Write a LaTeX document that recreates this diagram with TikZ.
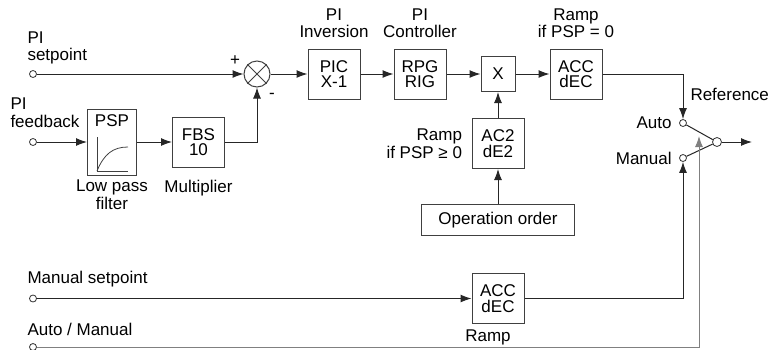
\documentclass[tikz,border=0pt]{standalone}
\usepackage{fontspec}
\setmainfont{Liberation Sans}
\usetikzlibrary{arrows.meta}
\usetikzlibrary{positioning}
\tikzstyle{block} = [rectangle, minimum width=52pt, minimum height=50pt, inner sep=0pt, text centered, align=center, draw=black!75, line width=1pt, font=\fontsize{17}{15.5}\selectfont]
\tikzstyle{term} = [circle, minimum size=7pt, inner sep=0pt, draw=black!80, line width=0.8pt, fill=white]
\tikzstyle{lbl} = [inner sep=0pt, align=center]
\tikzstyle{arrow} = [line width=1pt, draw=black!85, ->, >={Latex[length=11pt,width=8pt]}]

\begin{document}
\begin{tikzpicture}[x=1pt, y=-1pt, font=\fontsize{17}{17.5}\selectfont, line width=1pt]
\useasboundingbox (0,0) rectangle (772,349);

% ===== MAIN ROW =====

% Summing junction
\node (sum) [circle, draw=black!75, minimum size=26pt, inner sep=0pt] at (257,74) {};
\draw [black!75] (sum.north west) -- (sum.south east) (sum.north east) -- (sum.south west);
\node (plus) [lbl] at (235,61) {+};
\node (minus) [lbl] at (272,96) {-};

% PI inversion
\node (pic) [block, right=37pt of sum] {PIC\\X-1};
\node (lblpic) [lbl, above=10pt of pic] {PI\\Inversion};

% PI controller
\node (rpg) [block, right=33pt of pic] {RPG\\RIG};
\node (lblrpg) [lbl, above=10pt of rpg] {PI\\Controller};

% Multiplier
\node (mult) [block, minimum width=34pt, minimum height=35pt, right=34pt of rpg] {X};

% Ramp
\node (acc) [block, right=34pt of mult] {ACC\\dEC};
\node (lblacc) [lbl, above=10pt of acc] {Ramp\\if PSP = 0};

% Second ramp
\node (ac2) [block, below=26pt of mult] {AC2\\dE2};
\node (lblac2) [lbl, align=right, left=9pt of ac2] {Ramp\\if PSP ≥ 0};

% Operation order
\node (order) [block, minimum width=153pt, minimum height=31pt, below=35pt of ac2] {Operation order};

% Manual ramp
\node (acc2) [block, below=37pt of order] {ACC\\dEC};
\node (lblacc2) [lbl, below=5pt of acc2, xshift=-10pt] {Ramp};

% ===== FEEDBACK ROW =====

% Low pass filter
\node (psp) [block, minimum width=49pt, minimum height=66pt, label={[lbl, anchor=north, yshift=-6pt]north:PSP}] at (112,142) {};
\begin{scope}[shift={(psp.center)}, line width=0.8pt, black!75]
\draw (-15,-5) -- (-15,29) -- (16,29);
\draw (-15,29) .. controls (-8,12) and (1,5) .. (16,5);
\end{scope}
\node (lblpsp) [lbl, below=4pt of psp] {Low pass\\filter};

% Multiplier
\node (fbs) [block, right=35pt of psp] {FBS\\10};
\node (lblfbs) [lbl, below=12pt of fbs] {Multiplier};

% ===== INPUTS =====
\node (in1) [term] at (33,74) {};
\node (lblsp) [lbl, align=left, anchor=south west] at (27,65) {PI\\setpoint};
\node (in2) [term] at (33,142) {};
\node (lblfb) [lbl, align=left, anchor=south west] at (10,128) {PI\\feedback};
\node (in3) [term] at (in1 |- acc2) {};
\node (lblms) [lbl, anchor=base west] at (27,283) {Manual setpoint};
\node (in4) [term] at (33,347) {};
\node (lblam) [lbl, anchor=base west] at (27,335) {Auto / Manual};

% ===== SWITCH =====
\node (auto) [term] at (683,123) {};
\node (man) [term] at (683,158) {};
\node (pivot) [term, minimum size=9pt] at (717,142) {};
\coordinate (out) at (752,142);
\coordinate (lever) at (699,136);
\node (lblauto) [lbl, left=7pt of auto] {Auto};
\node (lblman) [lbl, left=7pt of man] {Manual};
\node (lblref) [lbl, anchor=west] at (690,94) {Reference};

% Arrows
\draw [arrow] (in1) -- (sum);
\draw [arrow] (in2) -- (psp);
\draw [arrow] (psp) -- (fbs);
\draw [arrow] (fbs.east) -| (sum.south);
\draw [arrow] (sum) -- (pic);
\draw [arrow] (pic) -- (rpg);
\draw [arrow] (rpg) -- (mult);
\draw [arrow] (mult) -- (acc);
\draw [arrow] (ac2) -- (mult);
\draw [arrow] (order) -- (ac2);
\draw [arrow] (acc.east) -| (auto.north);
\draw [arrow] (in3) -- (acc2);
\draw [arrow] (acc2.east) -| (man.south);
\draw [black!85] (auto) -- (pivot);
\draw [black!85] (man) -- (pivot);
\draw [arrow] (pivot) -- (out);
\draw [arrow, draw=black!50] (in4) -| (lever);

\end{tikzpicture}
\end{document}
